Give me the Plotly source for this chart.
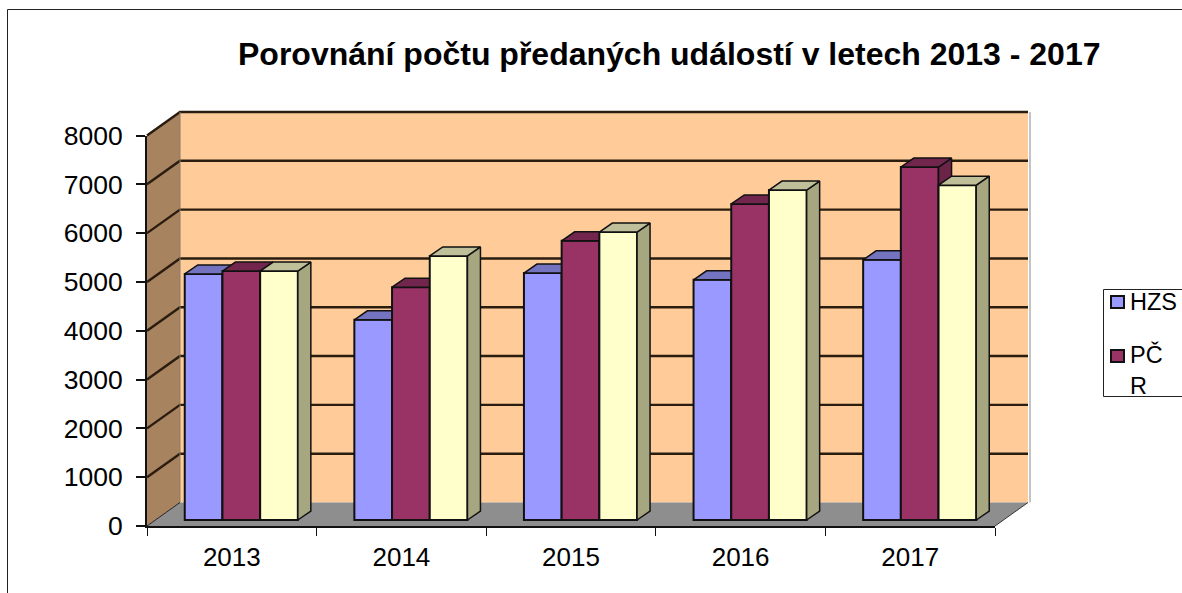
import plotly.graph_objects as go

years = ["2013", "2014", "2015", "2016", "2017"]
hzs = [5040, 4100, 5060, 4920, 5330]
pcr = [5100, 4770, 5720, 6475, 7230]
third = [5100, 5410, 5900, 6760, 6860]
y_ticks = [0, 1000, 2000, 3000, 4000, 5000, 6000, 7000, 8000]
TITLE = "Porovnání počtu předaných událostí v letech 2013 - 2017"

W, H = 1182, 593
X0, X1, Y0, Y8 = 147.0, 995.0, 526.0, 135.5
CAT = (X1 - X0) / 5
UNIT = (Y0 - Y8) / 8000


def ux(px):
    return px / CAT


def uy(px):
    return px / UNIT


WALL_DX, WALL_DY = ux(33), uy(23.5)
SHIFT_DX, SHIFT_DY = ux(9.5), uy(6)
BAR_DX, BAR_DY = ux(13), uy(9)
BAR_W = ux(37.7)
GAP = (1 - 3 * BAR_W) / 2

ink = "#111111"
fig = go.Figure()


def poly(xs, ys, fill, axes, line="rgba(0,0,0,0)", width=0):
    fig.add_trace(go.Scatter(x=xs, y=ys, mode="lines", fill="toself", fillcolor=fill,
                             line=dict(color=line, width=width), showlegend=False,
                             hoverinfo="skip", xaxis=axes[0], yaxis=axes[1]))


def lines(xs, ys, color, width, axes):
    fig.add_trace(go.Scatter(x=xs, y=ys, mode="lines", line=dict(color=color, width=width),
                             showlegend=False, hoverinfo="skip", xaxis=axes[0], yaxis=axes[1]))


BG = ("x", "y")
top = y_ticks[-1]
# walls and floor
poly([WALL_DX, 5 + WALL_DX, 5 + WALL_DX, WALL_DX], [WALL_DY, WALL_DY, top + WALL_DY, top + WALL_DY], "#FFCC99", BG)
poly([0, WALL_DX, WALL_DX, 0], [0, WALL_DY, top + WALL_DY, top], "#A8835F", BG)
poly([0, 5, 5 + WALL_DX, WALL_DX], [0, 0, WALL_DY, WALL_DY], "#8E8E8E", BG)
# soft edge of the back wall
lines([5 + WALL_DX + ux(2)] * 2, [WALL_DY, top + WALL_DY], "#C4C4C4", 2, BG)
# gridlines on both walls
gx, gy = [], []
for v in y_ticks[1:]:
    gx += [0, WALL_DX, 5 + WALL_DX, None]
    gy += [v, v + WALL_DY, v + WALL_DY, None]
lines(gx, gy, "#2A1C0E", 2.4, BG)
lines([WALL_DX, WALL_DX], [WALL_DY, top + WALL_DY], "#8A7A68", 1, BG)
lines([0, WALL_DX], [0, WALL_DY], "#222222", 1, BG)
lines([5, 5 + WALL_DX], [0, WALL_DY], "#333333", 1, BG)

series = [
    ("HZS", hzs, "#9999FF", "#7373BF", "#6B6BB3", "x2", "y2"),
    ("PČR", pcr, "#993366", "#73264D", "#6B2347", "x3", "y3"),
    ("", third, "#FFFFCC", "#BFBF99", "#A6A680", "x4", "y4"),
]
for s, (name, vals, front, tcol, scol, xa, ya) in enumerate(series):
    centers = [i + SHIFT_DX + GAP + (s + 0.5) * BAR_W for i in range(5)]
    sx, sy, tx, ty = [], [], [], []
    for c, v in zip(centers, vals):
        l, r, t = c - BAR_W / 2, c + BAR_W / 2, SHIFT_DY + v
        sx += [r, r + BAR_DX, r + BAR_DX, r, r, None]
        sy += [SHIFT_DY, SHIFT_DY + BAR_DY, t + BAR_DY, t, SHIFT_DY, None]
        tx += [l, r, r + BAR_DX, l + BAR_DX, l, None]
        ty += [t, t, t + BAR_DY, t + BAR_DY, t, None]
    poly(sx, sy, scol, (xa, ya), ink, 1.5)
    poly(tx, ty, tcol, (xa, ya), ink, 1.5)
    fig.add_trace(go.Bar(x=centers, y=vals, base=SHIFT_DY, width=BAR_W, name=name,
                         marker=dict(color=front, line=dict(color=ink, width=2)),
                         showlegend=False, hoverinfo="skip", xaxis=xa, yaxis=ya))

# labelled axes, carried by an invisible trace
fig.add_trace(go.Scatter(x=years, y=[None] * 5, mode="none", showlegend=False,
                         hoverinfo="skip", xaxis="x5", yaxis="y5"))


def key(y0, y1, color):
    return dict(type="rect", xref="paper", yref="paper", fillcolor=color,
                line=dict(color="#111111", width=2),
                x0=1111 / W, x1=1124 / W, y0=1 - y0 / H, y1=1 - y1 / H)


def legend_text(text, y):
    return dict(text=text, xref="paper", yref="paper", x=1128 / W, y=1 - y / H, xanchor="left",
                yanchor="top", align="left", showarrow=False, font=dict(size=23.5))


rng_x = [-X0 / CAT, (W - X0) / CAT]
rng_y = [-(H - Y0) / UNIT, Y0 / UNIT]
border_left, border_top = 7.5 / W, 1 - 9.5 / H
layout = dict(
    width=W, height=H, margin=dict(l=0, r=0, t=0, b=0, autoexpand=False),
    paper_bgcolor="white", plot_bgcolor="rgba(0,0,0,0)", showlegend=False,
    font=dict(family="Liberation Sans, Arial, sans-serif", color="black"),
    barmode="overlay",
    xaxis=dict(domain=[0, 1], range=rng_x, visible=False, anchor="y"),
    yaxis=dict(domain=[0, 1], range=rng_y, visible=False, anchor="x"),
    xaxis5=dict(type="category", domain=[X0 / W, X1 / W], range=[-0.5, 4.5], anchor="y5",
                tickson="boundaries", ticks="outside", ticklen=8, tickwidth=1, tickcolor="#111111",
                showline=True, linecolor="#111111", linewidth=2, showgrid=False, zeroline=False,
                tickfont=dict(size=26), ticklabelstandoff=7),
    yaxis5=dict(domain=[(H - Y0) / H, (H - Y8) / H], range=[0, 8000], anchor="x5",
                tickvals=y_ticks, ticks="outside", ticklen=9, tickwidth=2, tickcolor="#111111",
                showline=True, linecolor="#111111", linewidth=2, showgrid=False, zeroline=False,
                tickfont=dict(size=26.5), ticklabelstandoff=8),
    annotations=[
        dict(text="<b>" + TITLE + "</b>", xref="paper", yref="paper", x=669 / W, y=1 - 54 / H,
             xanchor="center", yanchor="middle", showarrow=False, font=dict(size=32)),
        legend_text("HZS", 287),
        legend_text("PČ<br>R", 339),
    ],
    shapes=[
        dict(type="path", xref="paper", yref="paper", line=dict(color="#222222", width=1),
             path=f"M {border_left} 0 L {border_left} {border_top} L 1 {border_top}"),
        dict(type="rect", xref="paper", yref="paper", line=dict(color="#222222", width=1),
             x0=1103.5 / W, x1=1190 / W, y0=1 - 289.5 / H, y1=1 - 396.5 / H),
        key(296, 308, "#9999FF"),
        key(350, 362, "#993366"),
    ],
)
for n in (2, 3, 4):
    layout[f"xaxis{n}"] = dict(range=rng_x, overlaying="x", anchor=f"y{n}", visible=False)
    layout[f"yaxis{n}"] = dict(range=rng_y, overlaying="y", anchor=f"x{n}", visible=False)
fig.update_layout(**layout)
fig.write_html("out.html", config=dict(displayModeBar=False),
               post_script="document.body.style.margin='0';")
